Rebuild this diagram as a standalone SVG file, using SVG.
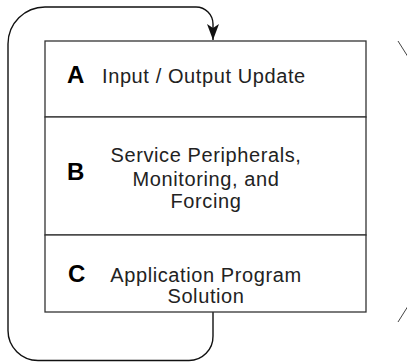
<svg xmlns="http://www.w3.org/2000/svg" width="407" height="362" viewBox="0 0 407 362">
<defs>
<style>
.box{fill:#fff;stroke:#333;stroke-width:1.3}
.lbl{font-family:"Liberation Sans",Arial,sans-serif;font-weight:bold;font-size:24px;fill:#000}
.txt{font-family:"Liberation Sans",Arial,sans-serif;font-size:20px;fill:#222;letter-spacing:0.6px}
.mid{text-anchor:middle}
.conn{fill:none;stroke:#111;stroke-width:1.4}
</style>
<marker id="arr" markerWidth="16" markerHeight="12" refX="16" refY="6" orient="auto" markerUnits="userSpaceOnUse" viewBox="0 0 16 12">
<path d="M0,0 L16,6 L0,12 L4,6 Z" fill="#111"/>
</marker>
</defs>
<rect width="407" height="362" fill="#fff"/>
<g id="connectors">
<path class="conn" d="M213,312 L213,336 A24,24 0 0 1 189,360.5 L38,360.5 A30,30 0 0 1 8,330.5 L8,44 A37,37 0 0 1 45,7 L196,7 A17,17 0 0 1 213,24 L213,40" marker-end="url(#arr)"/>
<path d="M398,41 A249,249 0 0 1 398,322" fill="none" stroke="#444" stroke-width="1"/>
</g>
<g id="nodeA">
<rect class="box" x="45" y="41" width="321" height="76"/>
<text class="lbl" x="67" y="83">A</text>
<text class="txt" x="102" y="83">Input / Output Update</text>
</g>
<g id="nodeB">
<rect class="box" x="45" y="117" width="321" height="118"/>
<text class="lbl" x="67" y="180">B</text>
<text class="txt mid" x="206" y="162">Service Peripherals,</text>
<text class="txt mid" x="206" y="185.5">Monitoring, and</text>
<text class="txt mid" x="206" y="208">Forcing</text>
</g>
<g id="nodeC">
<rect class="box" x="45" y="235" width="321" height="77"/>
<text class="lbl" x="68" y="282">C</text>
<text class="txt mid" x="206" y="282">Application Program</text>
<text class="txt mid" x="206" y="303">Solution</text>
</g>
</svg>
